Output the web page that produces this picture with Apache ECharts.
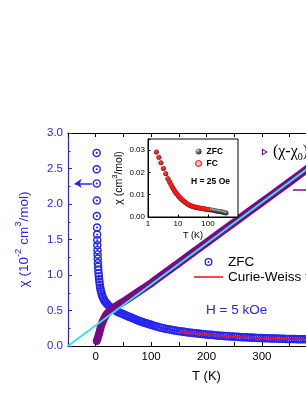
<!DOCTYPE html>
<html><head><meta charset="utf-8">
<script src="https://cdn.jsdelivr.net/npm/echarts@6/dist/echarts.min.js"></script>
<style>html,body{margin:0;padding:0;background:#fff}#c{width:306px;height:396px}</style>
</head><body><div id="c"></div>
<script>
// ---- data ----
const zfcT = [1.8,1.9,2.0,2.1,2.2,2.4,2.6,2.8,3.0,3.2,3.4,3.7,4.0,4.4,4.8,5.2,5.7,6.2,6.8,7.5,8.2,9,10,11,12,13.5,15,16.5,18,20,22,24,26,28,30,32,34,36,38,40,43,46,49,52,55,58,61,64,67,70,73,76,79,82,85,88,91,94,97,100,104,108,112,116,120,124,128,132,136,140,144,148,152,156,160,164,168,172,176,180,184,188,192,196,200,204,208,212,216,220,224,228,232,236,240,244,248,252,256,260,264,268,272,276,280,284,288,292,296,300,304,308,312,316,320,324,328,332,336,340,344,348,352,356,360,364,368,372,376,380,384,388,392,396,400];
const zfcChi = [2.72,2.49,2.29,2.05,1.83,1.67,1.57,1.49,1.42,1.35,1.29,1.23,1.17,1.12,1.07,1.02,0.98,0.94,0.90,0.86,0.82,0.79,0.76,0.73,0.70,0.675,0.65,0.63,0.615,0.595,0.58,0.565,0.55,0.54,0.53,0.52,0.51,0.50,0.49,0.48,0.47,0.46,0.45,0.44,0.43,0.42,0.41,0.40,0.39,0.38,0.37,0.36,0.352,0.344,0.336,0.328,0.32,0.312,0.305,0.298,0.288,0.278,0.27,0.262,0.255,0.248,0.241,0.235,0.229,0.223,0.218,0.213,0.208,0.203,0.199,0.195,0.191,0.187,0.183,0.179,0.176,0.172,0.169,0.166,0.163,0.160,0.157,0.154,0.151,0.149,0.146,0.144,0.141,0.139,0.137,0.135,0.133,0.131,0.129,0.127,0.125,0.123,0.122,0.120,0.118,0.117,0.115,0.114,0.112,0.111,0.110,0.109,0.108,0.107,0.106,0.105,0.104,0.103,0.102,0.101,0.100,0.099,0.0985,0.098,0.097,0.096,0.0955,0.095,0.094,0.0935,0.093,0.0925,0.092,0.0915,0.091];
const fitT = [150,175,200,225,250,275,300,325,350,375,400];
const fitChi = [0.203,0.179,0.159,0.144,0.132,0.121,0.112,0.105,0.099,0.094,0.090];
const invT = [2,4,6,8,10,13,16,20,25,30,40,50,60,80,100,150,200,250,300,350,400];
const invVal = [0.07,0.12,0.17,0.23,0.29,0.35,0.40,0.45,0.49,0.52,0.575,0.625,0.675,0.78,0.885,1.17,1.455,1.74,2.025,2.31,2.60];
const linT = [-50,400];
const linVal = [0,2.60];
const arrowT = [-7,-38];
const arrowChi = [2.29,2.29];
const inT = [1.9,2.3,2.7,3.25,3.9,4.6,5.2,5.8,6.4,7.0,7.6,8.3,9.0,10,11,12,13,14.5,16,18,20,22,25,28,31,35,40,45,50,57,65,75,85,100,115,130,150,170,190,215,240,270,300,330,360,400];
const inZfc = [0.0292,0.0268,0.0243,0.0218,0.0194,0.0172,0.0158,0.0146,0.0135,0.0126,0.0118,0.0110,0.0104,0.0097,0.0090,0.0085,0.0080,0.0074,0.0069,0.0064,0.0059,0.0056,0.0052,0.0049,0.0047,0.0045,0.0043,0.0042,0.0040,0.0039,0.0038,0.0036,0.0035,0.0034,0.0032,0.0031,0.0030,0.0028,0.0027,0.0026,0.0025,0.0023,0.0022,0.0021,0.0020,0.0018];
const inFcT = [1.9,2.3,2.7,3.25,3.9,4.6,5.2,5.8,6.4,7.0,7.6,8.3,9.0,10,11,12,13,14.5,16,18,20,22,25,28,31,35,40,45,50,57,65,75,85,100];
const inFc = [0.0291,0.0267,0.0243,0.0218,0.0195,0.0173,0.0159,0.0147,0.0136,0.0127,0.0119,0.0111,0.0105,0.0098,0.0091,0.0086,0.0081,0.0075,0.0070,0.0065,0.0060,0.0057,0.0053,0.0050,0.0048,0.0046,0.0044,0.0043,0.0041,0.0040,0.0039,0.0037,0.0036,0.0035];
const mainXLabels = [0,100,200,300,400];
const insetXLabels = [1,10,100];

const pair = (a,b) => a.map((v,i)=>[v,b[i]]);
const BLUE = '#2424f5', PURPLE = '#7a0a84', CYAN = '#33e2ea', RED = '#ff1010';
const SANS = 'Liberation Sans, Arial, sans-serif';
const SERIF = 'Liberation Serif, Times New Roman, serif';
const ring = 'path://M10,0A10,10,0,1,1,10,20A10,10,0,1,1,10,0ZM10,3.4A6.6,6.6,0,1,0,10,16.6A6.6,6.6,0,1,0,10,3.4ZM10,7.6A2.4,2.4,0,1,1,10,12.4A2.4,2.4,0,1,1,10,7.6Z';
const tri = 'path://M0,0L10,6L0,12ZM1.8,3.1L1.8,8.9L6.6,6Z';
const dash = 'path://M0,0L30,0L30,1.6L0,1.6Z';
const sphere = {type:'radial',x:0.35,y:0.32,r:0.7,colorStops:[{offset:0,color:'#d8d8d8'},{offset:0.5,color:'#444'},{offset:1,color:'#000'}]};

const chart = echarts.init(document.getElementById('c'), null, {renderer:'canvas'});
chart.setOption({
  animation:false,
  backgroundColor:'#fff',
  textStyle:{fontFamily:SANS},
  grid:[
    {left:68,top:133,width:277,height:213,outerBoundsMode:'none',containLabel:false},
    {left:148,top:139,width:90,height:78,show:true,backgroundColor:'#fff',borderColor:'#000',borderWidth:1,z:5,outerBoundsMode:'none',containLabel:false}
  ],
  xAxis:[
    {gridIndex:0,type:'value',min:-50,max:450,interval:50,
     axisLine:{onZero:false,lineStyle:{color:'#000',width:1.2}},
     axisTick:{inside:true,length:4,lineStyle:{color:'#000'}},
     axisLabel:{color:'#000',fontSize:11.5,margin:5,fontFamily:SANS,
       formatter:v=>mainXLabels.indexOf(v)>=0?String(v):''},
     splitLine:{show:false},
     name:'T (K)',nameLocation:'middle',nameGap:24,
     nameTextStyle:{color:'#000',fontSize:13,fontFamily:SANS}},
    {gridIndex:0,type:'value',position:'top',min:-50,max:450,interval:50,
     axisLine:{onZero:false,lineStyle:{color:'#000',width:1.2}},
     axisTick:{inside:true,length:4,lineStyle:{color:'#000'}},
     axisLabel:{show:false},splitLine:{show:false}},
    {gridIndex:1,type:'log',logBase:10,min:1,max:1000,z:6,
     axisLine:{onZero:false,lineStyle:{color:'#000',width:1}},
     axisTick:{inside:true,length:2.5,lineStyle:{color:'#000'}},
     axisLabel:{color:'#000',fontSize:8,margin:3,fontFamily:SANS,
       formatter:v=>insetXLabels.indexOf(v)>=0?String(v):''},
     splitLine:{show:false},minorSplitLine:{show:false},
     name:'T (K)',nameLocation:'middle',nameGap:14,
     nameTextStyle:{color:'#000',fontSize:9,fontFamily:SANS}}
  ],
  yAxis:[
    {gridIndex:0,type:'value',min:0,max:3,interval:0.5,
     axisLine:{show:true,onZero:false,lineStyle:{color:BLUE,width:1.2}},
     axisTick:{show:true,inside:true,length:4,lineStyle:{color:BLUE}},
     minorTick:{show:true,splitNumber:2,length:2.5,lineStyle:{color:BLUE}},
     axisLabel:{color:BLUE,fontSize:11.5,margin:5,fontFamily:SANS,formatter:v=>v.toFixed(1)},
     splitLine:{show:false},
     name:'{n|χ (10}{s|-2}{n| cm}{s|3}{n|/mol)}',nameLocation:'middle',nameGap:33,nameRotate:90,
     nameTextStyle:{color:BLUE,fontFamily:SANS,rich:{
       n:{fontSize:13.5,color:BLUE,fontFamily:SANS,lineHeight:22,verticalAlign:'middle'},
       s:{fontSize:9.5,color:BLUE,fontFamily:SANS,lineHeight:10,verticalAlign:'top'}}}},
    {gridIndex:1,type:'value',min:0,max:0.035,interval:0.01,z:6,
     axisLine:{show:true,onZero:false,lineStyle:{color:'#000',width:1}},
     axisTick:{show:true,inside:true,length:2.5,lineStyle:{color:'#000'}},
     axisLabel:{color:'#000',fontSize:8,margin:3,fontFamily:SANS,
       formatter:v=>v>0.031?'':v.toFixed(2)},
     splitLine:{show:false},
     name:'{n|χ (cm}{s|3}{n|/mol)}',nameLocation:'middle',nameGap:21,nameRotate:90,
     nameTextStyle:{color:'#000',fontFamily:SANS,rich:{
       n:{fontSize:10.5,color:'#000',fontFamily:SANS,lineHeight:16,verticalAlign:'middle'},
       s:{fontSize:7.5,color:'#000',fontFamily:SANS,lineHeight:8,verticalAlign:'top'}}}}
  ],
  legend:[
    {orient:'vertical',left:194,top:255,padding:0,itemWidth:29,itemHeight:8,itemGap:1,
     textStyle:{color:'#000',fontSize:13.5,fontFamily:SANS},
     data:[{name:'ZFC'},{name:'Curie-Weiss fit',icon:dash,itemStyle:{color:RED}}]},
    {orient:'vertical',left:195,top:147,padding:0,itemWidth:6,itemHeight:6,itemGap:3,z:9,
     textStyle:{color:'#000',fontSize:8.5,fontWeight:'bold',fontFamily:SANS},
     data:[{name:'ZFC ',icon:'circle'},
           {name:'FC',icon:'circle',itemStyle:{color:'#ffb0b0',borderColor:'#ee0000',borderWidth:1.2}}]},
    {orient:'vertical',left:262,top:142,padding:0,itemWidth:6,itemHeight:7,
     data:[{name:'(χ-χ0)-1',icon:tri}],
     formatter:()=>'{n|(χ-χ}{b|0}{n|)}{s|-1}',
     textStyle:{color:'#000',fontFamily:SERIF,rich:{
       n:{fontSize:16,fontFamily:SERIF,color:'#000',lineHeight:20,verticalAlign:'middle'},
       b:{fontSize:10,fontFamily:SERIF,color:'#000',lineHeight:10,verticalAlign:'bottom'},
       s:{fontSize:10,fontFamily:SERIF,color:'#000',lineHeight:10,verticalAlign:'top'}}}}
  ],
  series:[
    {name:'ZFC',type:'scatter',xAxisIndex:0,yAxisIndex:0,z:2,
     symbol:ring,symbolSize:8.5,itemStyle:{color:BLUE,opacity:1},
     data:pair(zfcT,zfcChi),
     markLine:{silent:true,symbol:['none','arrow'],symbolSize:7,
       lineStyle:{color:BLUE,width:1.5,type:'solid'},label:{show:false},
       data:[[{coord:[arrowT[0],arrowChi[0]]},{coord:[arrowT[1],arrowChi[1]]}]]}},
    {name:'(χ-χ0)-1',type:'line',xAxisIndex:0,yAxisIndex:0,z:3,
     symbol:'none',smooth:0.3,itemStyle:{color:PURPLE},
     lineStyle:{color:PURPLE,width:8,cap:'round'},
     data:pair(invT,invVal)},
    {name:'linear',type:'line',xAxisIndex:0,yAxisIndex:0,z:4,
     symbol:'none',lineStyle:{color:CYAN,width:2},data:pair(linT,linVal)},
    {name:'Curie-Weiss fit',type:'line',xAxisIndex:0,yAxisIndex:0,z:4,
     symbol:'none',smooth:true,itemStyle:{color:RED},lineStyle:{color:RED,width:1.5},
     data:pair(fitT,fitChi)},
    {name:'ZFC ',type:'scatter',xAxisIndex:2,yAxisIndex:1,z:7,
     symbol:'circle',symbolSize:5,itemStyle:{color:sphere},
     data:pair(inT,inZfc)},
    {name:'FC',type:'scatter',xAxisIndex:2,yAxisIndex:1,z:8,
     symbol:'circle',symbolSize:4,itemStyle:{color:'#f22',borderColor:'#e00',borderWidth:0.8},
     data:pair(inFcT,inFc)}
  ],
  graphic:[
    {type:'text',left:206,top:303,z:10,style:{text:'H = 5 kOe',fill:BLUE,font:'13.5px '+SANS}},
    {type:'text',left:191,top:177,z:10,style:{text:'H = 25 Oe',fill:'#000',font:'bold 8.5px '+SANS}},
    {type:'line',z:10,shape:{x1:293,y1:190,x2:330,y2:190},style:{stroke:PURPLE,lineWidth:1.5}}
  ]
});
</script></body></html>
